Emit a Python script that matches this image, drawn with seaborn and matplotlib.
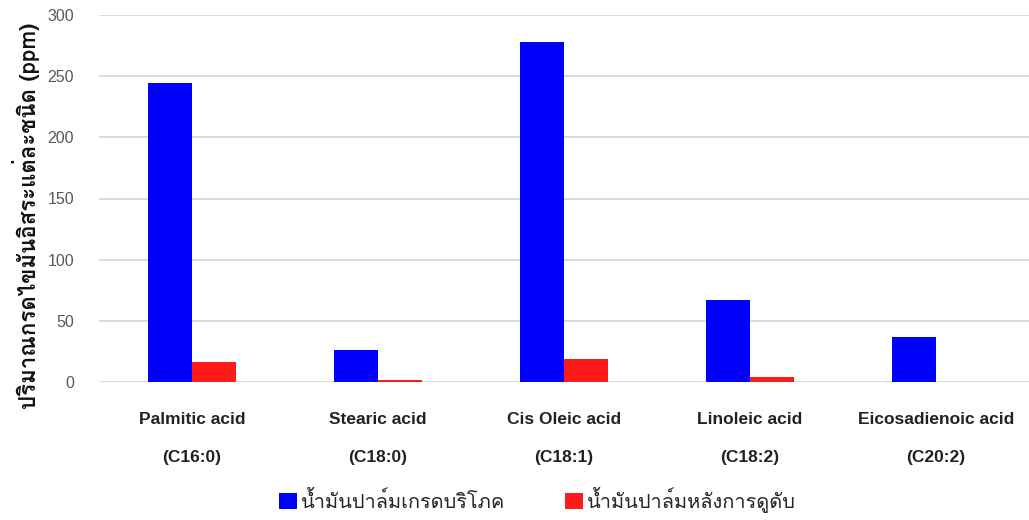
import matplotlib
matplotlib.use("Agg")
import matplotlib.pyplot as plt
from matplotlib import font_manager as fm
import seaborn as sns
import pandas as pd

acids = ["Palmitic acid", "Stearic acid", "Cis Oleic acid", "Linoleic acid", "Eicosadienoic acid"]
formulas = ["(C16:0)", "(C18:0)", "(C18:1)", "(C18:2)", "(C20:2)"]
series_names = ["น้ำมันปาล์มเกรดบริโภค", "น้ำมันปาล์มหลังการดูดับ"]
edible_oil = [244.5, 26.5, 278.0, 67.0, 36.5]
used_oil = [16.0, 1.5, 19.0, 4.0, 0.0]
y_ticks = [0, 50, 100, 150, 200, 250, 300]
y_label = "ปริมาณกรดไขมันอิสระแต่ละชนิด (ppm)"
colors = ["#0000ff", "#ff1a1a"]

available = {f.name for f in fm.fontManager.ttflist}
thai_pref = ["Loma", "IBM Plex Sans Thai Looped", "Noto Sans Thai Looped", "Sarabun"]
thai_font = next((f for f in thai_pref if f in available), "Noto Sans Thai")
latin_font = "Liberation Sans"

sns.set_theme(style="whitegrid")
plt.rcParams["font.family"] = [latin_font, thai_font, "DejaVu Sans"]

cats = [f"{a}\n{b}" for a, b in zip(acids, formulas)]
df = pd.DataFrame({
    "cat": cats * 2,
    "value": edible_oil + used_oil,
    "series": [series_names[0]] * len(cats) + [series_names[1]] * len(cats),
})

fig = plt.figure(figsize=(10.29, 5.2), dpi=100)
ax = fig.add_axes([99 / 1029, 1 - 382 / 520, 1 - 99 / 1029, (382 - 15) / 520])
sns.barplot(data=df, x="cat", y="value", hue="series", palette=colors,
            width=0.473, gap=0, saturation=1, ax=ax, order=cats,
            hue_order=series_names, edgecolor="none", linewidth=0)

ax.set_ylim(0, 300)
ax.set_xlim(-0.5, 4.5)
ax.set_yticks(y_ticks)
ax.set_yticklabels([str(t) for t in y_ticks], color="#595959", fontsize=11.5)
ax.tick_params(axis="y", pad=18, length=0)
ax.tick_params(axis="x", pad=21.5, length=0)
for lab in ax.get_xticklabels():
    lab.set_fontweight("bold")
    lab.set_fontsize(12.5)
    lab.set_color("#222222")
    lab.set_linespacing(2.9)
ax.set_xlabel("")
ax.set_ylabel("")
ax.grid(axis="y", color="#d9d9d9", linewidth=1.3)
ax.grid(axis="x", visible=False)
for s in ax.spines.values():
    s.set_visible(False)
ax.set_axisbelow(True)

fig.text(26 / 1029, 1 - 216 / 520, y_label, rotation=90, ha="center", va="center",
         fontsize=16, fontweight="bold", family=[thai_font, latin_font, "DejaVu Sans"],
         color="#111111")

leg = ax.get_legend()
handles = leg.legend_handles
leg.remove()
fig.legend(handles, series_names, loc="center", bbox_to_anchor=(0.5224, 1 - 500 / 520),
           ncol=2, frameon=False, handlelength=0.9, handleheight=0.9, handletextpad=0.2,
           columnspacing=3.0, prop={"family": [thai_font, latin_font], "size": 14.4})

fig.savefig("out.png", dpi=100)
